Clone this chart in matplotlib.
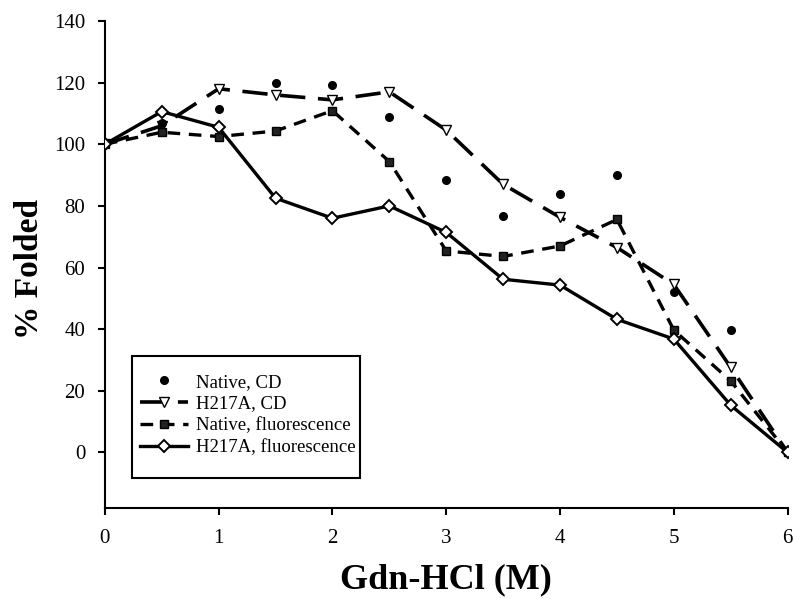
"""
Denaturation curves: % folded vs Gdn-HCl concentration.
"""
import matplotlib
matplotlib.use("Agg")
import matplotlib.pyplot as plt
from matplotlib.patches import Rectangle

gdn = [0, 0.5, 1, 1.5, 2, 2.5, 3, 3.5, 4, 4.5, 5, 5.5, 6]

native_cd = [100, 107, 111.5, 119.8, 119.3, 108.7, 88.3, 76.6, 83.8, 90, 52, 39.6, 0]
h217a_cd = [100, 106, 118, 116, 114.4, 117, 104.6, 87, 76.3, 66.5, 54.5, 27.6, 0]
native_fl = [100, 103.9, 102.5, 104.3, 110.9, 94.4, 65.4, 63.6, 67, 75.6, 39.7, 23.2, 0]
h217a_fl = [100, 110.6, 105.5, 82.5, 76, 80, 71.4, 56.2, 54.3, 43.2, 36.8, 15.3, 0]

labels = ["Native, CD", "H217A, CD", "Native, fluorescence", "H217A, fluorescence"]
x_ticks = [0, 1, 2, 3, 4, 5, 6]
y_ticks = [0, 20, 40, 60, 80, 100, 120, 140]

plt.rcParams["font.family"] = ["Liberation Serif", "DejaVu Serif"]

fig = plt.figure(figsize=(7.94, 5.99), dpi=100)
ax = fig.add_axes([0.132, 0.152, 0.86, 0.813])

ax.plot(gdn, native_cd, linestyle="none", marker="o", ms=5.5,
        color="black", label=labels[0], zorder=5)
ax.plot(gdn, h217a_cd, color="black", lw=2.6, dashes=(7, 3.5),
        marker="v", ms=7.5, mfc="white", mec="black", mew=1.0,
        label=labels[1], zorder=3)
ax.plot(gdn, native_fl, color="black", lw=2.4, dashes=(3.8, 2.6),
        marker="s", ms=6, mfc="#222222", mec="black",
        label=labels[2], zorder=4)
ax.plot(gdn, h217a_fl, color="black", lw=2.4, linestyle="-",
        marker="D", ms=6.5, mfc="white", mec="black", mew=1.4,
        label=labels[3], zorder=6)

ax.set_xlim(0, 6)
ax.set_ylim(-18, 140)
ax.set_xticks(x_ticks)
ax.set_yticks(y_ticks)

for side in ["top", "right"]:
    ax.spines[side].set_visible(False)
for side in ["left", "bottom"]:
    ax.spines[side].set_linewidth(1.5)

ax.tick_params(axis="both", direction="out", length=5, width=1.5, labelsize=15)
ax.tick_params(axis="x", pad=10)
ax.tick_params(axis="y", pad=9)

ax.set_xlabel("Gdn-HCl (M)", fontsize=26, fontweight="bold", labelpad=11)
ax.set_ylabel("% Folded", fontsize=24, fontweight="bold")
ax.yaxis.set_label_coords(-0.088, 0.49)

# legend box is taller than its contents, so draw the frame separately
ax.add_patch(Rectangle((0.0395, 0.0616), 0.3335, 0.2504, transform=ax.transAxes,
                       facecolor="white", edgecolor="black", lw=1.5,
                       clip_on=False, zorder=7))
leg = ax.legend(loc="upper left", bbox_to_anchor=(0.051, 0.276), fontsize=13.5,
                frameon=False, handlelength=2.6, handletextpad=0.4,
                labelspacing=0.25, borderpad=0, borderaxespad=0)
leg.set_zorder(8)

fig.savefig("out.png", dpi=100)
